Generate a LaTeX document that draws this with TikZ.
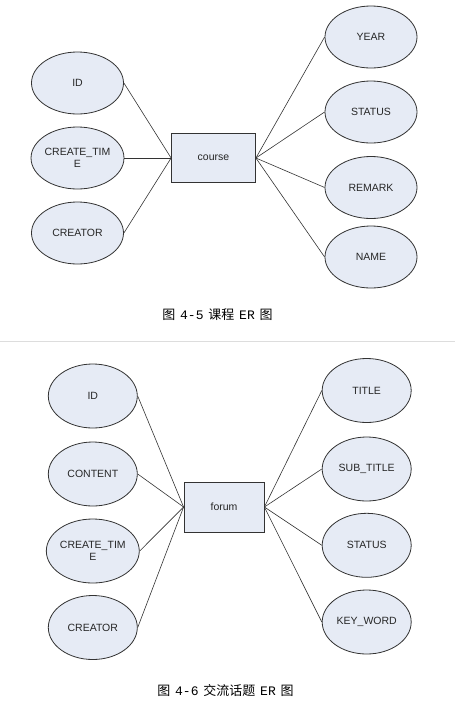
\documentclass[tikz,border=0pt]{standalone}
\usepackage{fontspec}
\setmainfont{Liberation Sans}
\newfontfamily\cjk{Noto Sans CJK SC}
\newfontfamily\halfw{Liberation Mono}
\usetikzlibrary{shapes.geometric}
\definecolor{attrfill}{HTML}{E6EBF5}
\definecolor{edgecol}{HTML}{333333}
\definecolor{sepcol}{HTML}{DDDDDD}
\newcommand{\hw}[1]{{\halfw\fontsize{13}{14}\selectfont #1}}
\newcommand{\capgap}{\hspace{4.8pt}}
\begin{document}
\begin{tikzpicture}[x=1pt,y=-1pt,
  attr/.style={ellipse,draw=edgecol,fill=attrfill,line width=0.8pt,
    minimum width=92pt,minimum height=62pt,inner sep=0pt,align=center,
    font=\fontsize{10.5}{12}\selectfont,text=black!85},
  ent/.style={rectangle,draw=edgecol,fill=attrfill,line width=0.8pt,
    inner sep=0pt,font=\fontsize{10.5}{12}\selectfont,text=black!85},
  link/.style={draw=edgecol,line width=0.6pt},
  captext/.style={font=\cjk\fontsize{13}{14}\selectfont,inner sep=0pt}]
\useasboundingbox (0,0) rectangle (455,705);

% ---------- course ER ----------
\node[ent,minimum width=84pt,minimum height=49pt] (course) at (213.5,158) {course};
\node[attr] (cid) at (77.5,83) {ID};
\node[attr] (ctime) at (77.5,158) {CREATE\_TIM\\E};
\node[attr] (ccreator) at (77.5,233) {CREATOR};
\node[attr] (cyear) at (371,37) {YEAR};
\node[attr] (cstatus) at (371,112) {STATUS};
\node[attr] (cremark) at (371,187.5) {REMARK};
\node[attr] (cname) at (371,257) {NAME};
\foreach \n in {cid,ctime,ccreator}
  \draw[link] (\n.east) -- (course.west);
\foreach \n in {cyear,cstatus,cremark,cname}
  \draw[link] (course.east) -- (\n.west);
\node[captext] (cap1) at (217.5,315) {图\capgap\hw{4-5}\capgap 课程\capgap\hw{ER}\capgap 图};

% separator
\coordinate (sepL) at (0,341);
\coordinate (sepR) at (455,341);
\draw[sepcol,line width=1pt] (sepL) -- (sepR);

% ---------- forum ER ----------
\node[ent,minimum width=80pt,minimum height=50pt] (forum) at (224,507) {forum};
\node[attr,minimum width=89pt,minimum height=64pt] (fid) at (92.8,396) {ID};
\node[attr,minimum width=89pt,minimum height=64pt] (fcontent) at (92.8,474) {CONTENT};
\node[attr,minimum width=89pt,minimum height=64pt] (ftime) at (92.8,551) {CREATE\_TIM\\E};
\node[attr,minimum width=89pt,minimum height=64pt] (fcreator) at (92.8,627.5) {CREATOR};
\node[attr,minimum width=89pt,minimum height=64pt] (ftitle) at (366.7,390.5) {TITLE};
\node[attr,minimum width=89pt,minimum height=64pt] (fsub) at (366.7,469) {SUB\_TITLE};
\node[attr,minimum width=89pt,minimum height=64pt] (fstatus) at (366.7,545.3) {STATUS};
\node[attr,minimum width=89pt,minimum height=64pt] (fkey) at (366.7,622) {KEY\_WORD};
\foreach \n in {fid,fcontent,ftime,fcreator}
  \draw[link] (\n.east) -- (forum.west);
\foreach \n in {ftitle,fsub,fstatus,fkey}
  \draw[link] (forum.east) -- (\n.west);
\node[captext] (cap2) at (225.5,691) {图\capgap\hw{4-6}\capgap 交流话题\capgap\hw{ER}\capgap 图};
\end{tikzpicture}
\end{document}
